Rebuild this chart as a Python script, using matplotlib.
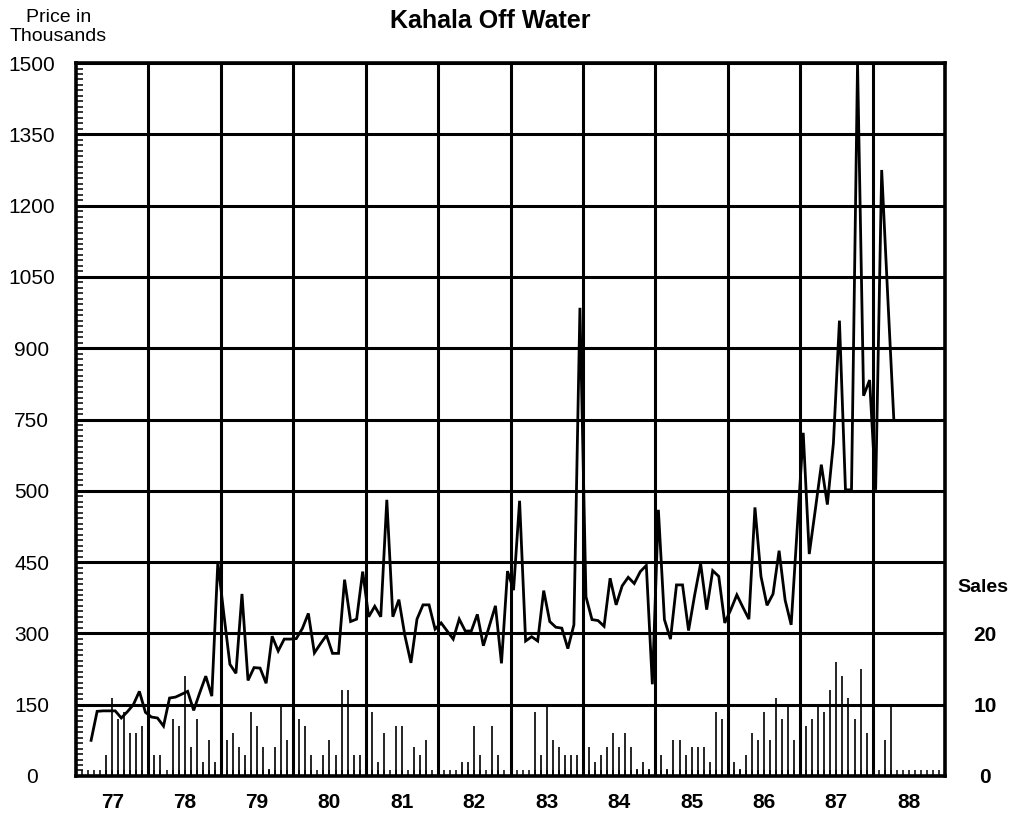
import numpy as np
import matplotlib
matplotlib.use('Agg')
import matplotlib.pyplot as plt
from matplotlib.ticker import AutoMinorLocator, MultipleLocator

plt.rcParams['font.family'] = ['Liberation Sans', 'DejaVu Sans']

title = 'Kahala Off Water'
year_labels = ['77', '78', '79', '80', '81', '82', '83', '84', '85', '86', '87', '88']
price_ticks = [0, 150, 300, 450, 600, 750, 900, 1050, 1200, 1350, 1500]
price_labels = ['0', '150', '300', '450', '500', '750', '900', '1050', '1200', '1350', '1500']
sales_ticks = [0, 10, 20]

# monthly average price (thousands), starts Mar 1977
price_start = 2
price = [75, 136, 137, 137, 137, 122, 135, 150, 178, 134,
         124, 122, 105, 164, 166, 172, 178, 138, 175, 210, 168, 450,
         340, 235, 216, 383, 201, 228, 227, 195, 294, 263, 288, 288,
         289, 310, 342, 259, 278, 296, 258, 258, 413, 325, 330, 430,
         335, 357, 335, 581, 335, 371, 295, 238, 330, 360, 360, 309,
         322, 305, 288, 330, 305, 305, 340, 274, 316, 358, 237, 431,
         391, 579, 284, 293, 284, 390, 325, 313, 311, 268, 318, 985,
         377, 329, 327, 315, 416, 360, 400, 418, 405, 430, 443, 193,
         560, 329, 288, 402, 402, 306, 380, 447, 350, 432, 420, 322,
         350, 381, 355, 330, 565, 420, 359, 383, 474, 370, 318, 520,
         722, 467, 560, 655, 571, 700, 958, 602, 602, 1500, 800, 833,
         602, 1275, 1010, 753]

# monthly number of sales, starts Jan 1977
sales = [0, 0, 0, 0, 3, 11, 8, 9, 6, 6, 7, 6,
         3, 3, 0, 8, 7, 14, 4, 8, 2, 5, 2, 0,
         5, 6, 4, 3, 9, 7, 4, 1, 4, 10, 5, 0,
         8, 7, 3, 0, 3, 5, 3, 12, 12, 3, 3, 0,
         9, 2, 6, 0, 7, 7, 0, 4, 3, 5, 0, 0,
         0, 0, 0, 2, 2, 7, 3, 0, 7, 3, 0, 0,
         0, 0, 0, 9, 3, 10, 5, 4, 3, 3, 3, 0,
         4, 2, 3, 4, 6, 4, 6, 4, 1, 2, 1, 0,
         3, 1, 5, 5, 3, 4, 4, 4, 2, 9, 8, 0,
         2, 1, 3, 6, 5, 9, 5, 11, 8, 10, 5, 0,
         7, 8, 10, 9, 12, 16, 14, 11, 8, 15, 6, 0,
         0, 5, 10, 0]

t_price = 1977 + (price_start + np.arange(len(price)) + 0.5) / 12
t_sales = 1977 + (np.arange(len(sales)) + 1) / 12

fig = plt.figure(figsize=(10.23, 8.36), dpi=100)
ax = fig.add_axes([0.0743, 0.0718, 0.8495, 0.8528])
ax2 = ax.twinx()

lw = 2.2
ax.plot(t_price, price, color='black', lw=2.0, solid_joinstyle='miter', zorder=3)
ax2.vlines(t_sales, 0, sales, color='black', lw=1.2)

ax.set_xlim(1977, 1989)
ax.set_ylim(0, 1500)
ax2.set_ylim(0, 100)

# grid
ax.set_xticks(np.arange(1978, 1989))
ax.set_xticklabels([])
ax.xaxis.set_minor_locator(MultipleLocator(1 / 12))
ax.tick_params(axis='x', which='major', length=0)
ax.tick_params(axis='x', which='minor', direction='in', length=4, width=1.1)
ax.set_yticks(price_ticks)
ax.set_yticklabels(price_labels, fontsize=15)
ax.yaxis.set_minor_locator(AutoMinorLocator(13))
ax.tick_params(axis='y', which='major', length=0, pad=32)
ax.tick_params(axis='y', which='minor', direction='in', length=5, width=1.1)
for lab in ax.get_yticklabels():
    lab.set_ha('center')
ax.grid(True, which='major', color='black', lw=lw)
for s in ax.spines.values():
    s.set_linewidth(lw + 0.4)
for s in ax2.spines.values():
    s.set_visible(False)

# year labels
secax = ax.secondary_xaxis('bottom')
secax.set_xticks(np.arange(1977, 1989) + 0.5, labels=year_labels)
secax.tick_params(length=0, pad=12)
for lab in secax.get_xticklabels():
    lab.set_fontweight('bold')
    lab.set_fontsize(15)
    lab.set_family(['Liberation Sans Narrow', 'Liberation Sans', 'DejaVu Sans'])
secax.spines['bottom'].set_visible(False)

# sales axis
ax2.set_yticks(sales_ticks)
ax2.set_yticklabels([str(v) for v in sales_ticks], fontsize=15, fontweight='bold')
ax2.tick_params(axis='y', length=0, pad=29)
for lab in ax2.get_yticklabels():
    lab.set_ha('center')
ax2.text(1.0 + 38 / 869, 26.5, 'Sales', transform=ax2.get_yaxis_transform(),
         ha='center', va='center', fontsize=14, fontweight='bold')

fig.text(0.479, 0.975, title, ha='center', va='center', fontsize=18, fontweight='bold')
fig.text(0.057, 0.968, 'Price in\nThousands', ha='center', va='center',
         fontsize=14, linespacing=1.15)

fig.savefig('out.png', dpi=100)
